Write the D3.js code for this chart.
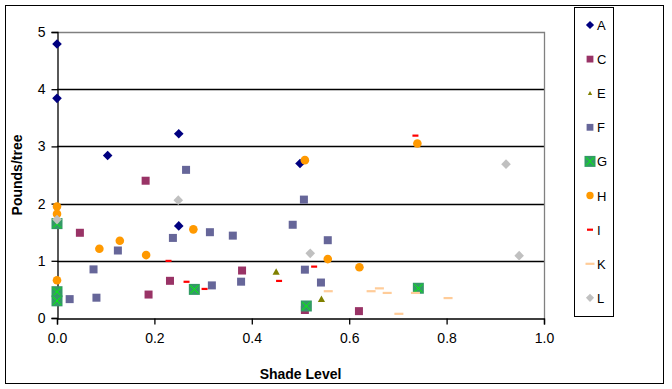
<!DOCTYPE html>
<html><head><meta charset="utf-8">
<script src="https://cdn.jsdelivr.net/npm/d3@7"></script>
<style>body{margin:0;background:#fff}svg{display:block}text{font-family:"Liberation Sans",Arial,sans-serif}</style>
</head><body><svg id="c" width="672" height="389"></svg>
<script>
const seriesNames = ["A","C","E","F","G","H","I","K","L"];
const xTicks = [0,0.2,0.4,0.6,0.8,1.0];
const yTicks = [0,1,2,3,4,5];
const A = [[0,4.79],[0,3.84],[0.104,2.84],[0.25,3.22],[0.25,1.61],[0.499,2.70]];
const C = [[0.182,2.40],[0.047,1.49],[0.232,0.65],[0.188,0.41],[0.38,0.83],[0.509,0.14],[0.62,0.12]];
const E = [[0.45,0.81],[0.543,0.33]];
const F = [[0.265,2.59],[0.507,2.07],[0.484,1.63],[0.238,1.40],[0.314,1.50],[0.361,1.44],[0.556,1.36],[0.125,1.18],[0.075,0.85],[0.509,0.845],[0.318,0.57],[0.378,0.635],[0.542,0.62],[0.026,0.33],[0.081,0.355]];
const G = [[0,1.65],[0,0.46],[0,0.30],[0.282,0.50],[0.512,0.21],[0.742,0.52]];
const H = [[0,1.95],[0,1.82],[0,0.66],[0.087,1.21],[0.129,1.35],[0.183,1.10],[0.28,1.55],[0.509,2.76],[0.556,1.03],[0.621,0.886],[0.74,3.05]];
const I = [[0.229,1.0],[0.266,0.635],[0.303,0.51],[0.456,0.65],[0.528,0.90],[0.736,3.19]];
const K = [[0.557,0.47],[0.645,0.47],[0.662,0.52],[0.678,0.44],[0.736,0.44],[0.803,0.35],[0.702,0.075]];
const L = [[0,1.72],[0.249,2.06],[0.52,1.13],[0.922,2.69],[0.949,1.09]];
const seriesData = [A,C,E,F,G,H,I,K,L];

const styles = {
  A:{shape:"diamond",fill:"#000080"},
  C:{shape:"square",fill:"#993366"},
  E:{shape:"triangle",fill:"#808000"},
  F:{shape:"square",fill:"#666699"},
  G:{shape:"gsq",fill:"#339966"},
  H:{shape:"circle",fill:"#FF9900"},
  I:{shape:"dash",fill:"#FF0000",w:6},
  K:{shape:"dash",fill:"#FFCC99",w:9},
  L:{shape:"diamond",fill:"#C0C0C0"}
};

const svg = d3.select("#c");
const pl=57, pr=544, pt=32, pb=318;
const x = d3.scaleLinear().domain([0,1]).range([pl,pr]);
const y = d3.scaleLinear().domain([0,5]).range([pb,pt]);

// outer frame
svg.append("rect").attr("x",5.5).attr("y",5.5).attr("width",658).attr("height",378).attr("fill","none").attr("stroke","#000").attr("stroke-width",1);

// gridlines
svg.append("g").selectAll("line").data(yTicks.filter(d=>d>0&&d<5)).join("line")
  .attr("x1",pl).attr("x2",pr).attr("y1",d=>Math.round(y(d))+0.5).attr("y2",d=>Math.round(y(d))+0.5)
  .attr("stroke","#000").attr("stroke-width",1.3);
// plot border top/right gray
svg.append("path").attr("d",`M${pl},${pt+0.5}H${pr+0.5}V${pb}`).attr("fill","none").attr("stroke","#808080").attr("stroke-width",1.3);

// axes
const xAxis = d3.axisBottom(x).tickValues(xTicks).tickFormat(d3.format(".1f")).tickSizeOuter(0).tickSize(6).tickPadding(9);
const yAxis = d3.axisLeft(y).tickValues(yTicks).tickFormat(d3.format("d")).tickSizeOuter(0).tickSize(6).tickPadding(6);
const gx = svg.append("g").attr("transform",`translate(0,${pb+0.5})`).call(xAxis);
const gy = svg.append("g").attr("transform",`translate(${pl+0.5},0)`).call(yAxis);
[gx,gy].forEach(g=>{
  g.selectAll("path").attr("stroke","#000").attr("stroke-width",1.3);
  g.selectAll("line").attr("stroke","#000").attr("stroke-width",1.3);
  g.selectAll("text").attr("font-size",14).attr("fill","#000").attr("font-family","Liberation Sans, Arial, sans-serif");
});

// axis titles
svg.append("text").attr("x",(pl+pr)/2).attr("y",379).attr("text-anchor","middle").attr("font-size",14).attr("font-weight","bold").text("Shade Level");
svg.append("text").attr("transform",`translate(22,${(pt+pb)/2}) rotate(-90)`).attr("text-anchor","middle").attr("font-size",14).attr("font-weight","bold").text("Pounds/tree");

function drawMarker(g, name, cx, cy, scale){
  const s = styles[name]; scale = scale||1;
  if(s.shape==="diamond"){
    const r=4.8*scale;
    g.append("path").attr("d",`M${cx},${cy-r}L${cx+r},${cy}L${cx},${cy+r}L${cx-r},${cy}Z`).attr("fill",s.fill);
  } else if(s.shape==="square"){
    const r=4*scale;
    g.append("rect").attr("x",cx-r).attr("y",cy-r).attr("width",2*r).attr("height",2*r).attr("fill",s.fill);
  } else if(s.shape==="gsq"){
    const r=5.5*scale;
    g.append("rect").attr("x",cx-r).attr("y",cy-r).attr("width",2*r).attr("height",2*r).attr("fill",s.fill);
    const q=r-1.5;
    g.append("path").attr("d",`M${cx-q},${cy-q}L${cx+q},${cy+q}M${cx+q},${cy-q}L${cx-q},${cy+q}`).attr("stroke","#00FF00").attr("stroke-width",1);
  } else if(s.shape==="circle"){
    g.append("circle").attr("cx",cx).attr("cy",cy).attr("r",4.3*scale).attr("fill",s.fill);
  } else if(s.shape==="triangle"){
    const w=3.6*scale;
    g.append("path").attr("d",`M${cx},${cy-3.5*scale}L${cx+w},${cy+3*scale}L${cx-w},${cy+3*scale}Z`).attr("fill",s.fill);
  } else if(s.shape==="dash"){
    g.append("rect").attr("x",cx-s.w/2).attr("y",cy-1).attr("width",s.w).attr("height",2.2).attr("fill",s.fill);
  }
}

const gm = svg.append("g");
seriesNames.forEach((n,i)=>{
  seriesData[i].forEach(d=>drawMarker(gm,n,x(d[0]),y(d[1])));
});

// legend
svg.append("rect").attr("x",574.5).attr("y",7.5).attr("width",39).attr("height",309).attr("fill","#fff").attr("stroke","#000").attr("stroke-width",1);
const lg = svg.append("g");
seriesNames.forEach((n,i)=>{
  const cy = 25 + i*34.1;
  drawMarker(lg,n,590,cy,n==="E"?0.6:(n==="G"?1:0.85));
  lg.append("text").attr("x",597).attr("y",cy+5).attr("font-size",13).text(n);
});
</script></body></html>
